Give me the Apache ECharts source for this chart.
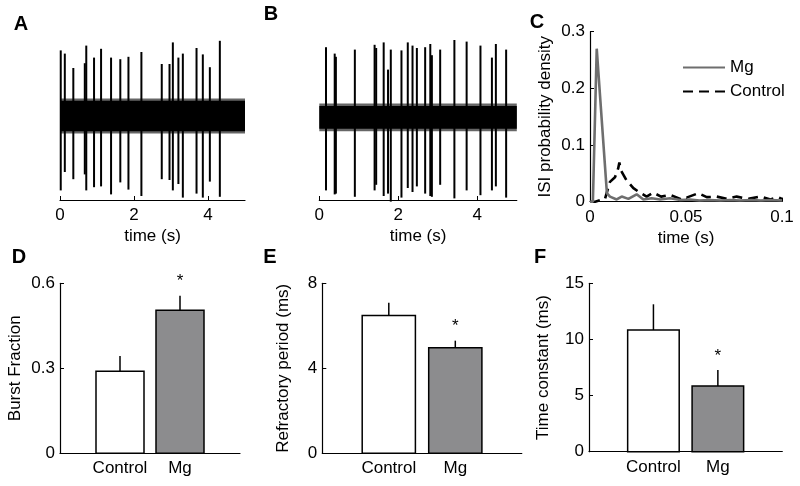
<!DOCTYPE html>
<html><head><meta charset="utf-8">
<script src="https://cdn.jsdelivr.net/npm/echarts@6/dist/echarts.min.js"></script>
<style>html,body{margin:0;padding:0;background:#fff}#c{width:800px;height:486px}</style>
</head><body><div id="c"></div>
<script>
// ---------- Panel A: control recording (spike times in s, peak amplitudes in a.u.) ----------
const spikeTimesA = [0.02,0.13,0.36,0.67,0.71,0.92,1.11,1.38,1.63,1.85,2.20,2.75,2.96,3.05,3.20,3.32,3.69,3.86,4.05,4.32];
const spikeUpA    = [0.87,0.83,0.65,0.71,0.93,0.78,0.89,0.78,0.76,0.79,0.85,0.70,0.70,0.97,0.78,0.83,0.90,0.82,0.66,0.99];
const spikeDownA  = [-0.88,-0.65,-0.74,-0.68,-0.88,-0.84,-0.83,-0.93,-0.78,-0.87,-0.95,-0.74,-0.75,-0.88,-0.80,-0.97,-0.92,-0.97,-0.77,-0.96];
const noiseCoreA  = [-0.14, 0.24];
const noiseOuterA = [-0.17, 0.27];

// ---------- Panel B: Mg recording ----------
const spikeTimesB = [0.17,0.39,0.42,0.90,1.40,1.44,1.63,1.74,1.81,2.08,2.24,2.36,2.47,2.68,2.81,2.85,3.06,3.42,3.73,4.08,4.37,4.47,4.73];
const spikeUpB    = [0.91,0.83,0.79,0.88,0.94,0.90,0.97,0.63,0.88,0.87,0.97,0.93,0.90,0.91,0.95,0.81,0.88,1.00,0.98,0.93,0.78,0.95,0.88];
const spikeDownB  = [-0.88,-0.93,-0.92,-0.96,-0.88,-0.81,-0.95,-0.92,-1.02,-0.97,-0.85,-0.90,-0.83,-0.92,-0.95,-0.96,-0.81,-0.98,-0.88,-0.94,-0.88,-0.83,-0.97];
const noiseCoreB  = [-0.11, 0.175];
const noiseOuterB = [-0.14, 0.205];
const traceTicks  = [0, 2, 4];

// ---------- Panel C: ISI probability density ----------
const isiMgX  = [0,0.0015,0.0035,0.0088,0.0104,0.0139,0.0165,0.02,0.0243,0.0278,0.0321,0.0365,0.0417,0.047,0.052,0.057,0.062,0.068,0.073,0.078,0.084,0.089,0.094,0.1];
const isiMgY  = [0,0,0.27,0.015,0.009,0.004,0.009,0.005,0.013,0.004,0.006,0.004,0.006,0.003,0.004,0.002,0.003,0.002,0.003,0.002,0.003,0.002,0.003,0.002];
const isiCtlX = [0,0.0027,0.0078,0.0104,0.013,0.0147,0.0153,0.016,0.019,0.0226,0.026,0.0295,0.033,0.037,0.0417,0.0477,0.0564,0.0608,0.066,0.0712,0.0764,0.0825,0.0885,0.094,0.098,0.1];
const isiCtlY = [0,0,0.005,0.035,0.043,0.059,0.069,0.056,0.038,0.024,0.016,0.009,0.016,0.009,0.012,0.004,0.015,0.008,0.009,0.005,0.009,0.005,0.009,0.004,0.008,0.005];
const isiSeriesNames = ['Mg','Control'];

// ---------- Panels D-F: bar summaries ----------
const groups = ['Control','Mg'];
const burstMean = [0.29, 0.505];
const burstSem  = [0.053, 0.051];
const refrMean  = [6.48, 4.97];
const refrSem   = [0.61, 0.33];
const tauMean   = [10.84, 5.85];
const tauSem    = [2.29, 1.43];
const significant = [false, true];

// ---------- styling ----------
const FONT = '"Liberation Sans", Arial, Helvetica, sans-serif';
const BLACK = '#000';
const barFill = ['#ffffff', '#8c8c8e'];
const mgColor = '#6e6e6e';

const chart = echarts.init(document.getElementById('c'), null, {renderer: 'canvas'});

const axLine = {show: true, onZero: false, lineStyle: {color: BLACK, width: 1.2}};
const axTick = {show: true, inside: true, length: 4, lineStyle: {color: BLACK, width: 1}};
const axLabel = {color: BLACK, fontSize: 17, fontFamily: FONT};
const nameStyle = {color: BLACK, fontSize: 17, fontFamily: FONT};

const grids = [
  {left: 60,    top: 40,    width: 185,   height: 160},   // A
  {left: 319.3, top: 40,    width: 197.5, height: 160},   // B
  {left: 590,   top: 31.7,  width: 192,   height: 170},   // C
  {left: 60,    top: 283.3, width: 180,   height: 170},   // D
  {left: 322.3, top: 283.3, width: 199.5, height: 170},   // E
  {left: 589,   top: 283.3, width: 193.3, height: 168.4}  // F
];

function traceX(gi) {
  return {type: 'value', gridIndex: gi, min: 0, max: 5, interval: 1,
    axisLine: axLine, splitLine: {show: false},
    axisTick: Object.assign({customValues: traceTicks}, axTick),
    axisLabel: Object.assign({margin: 7, customValues: traceTicks}, axLabel),
    name: 'time (s)', nameLocation: 'middle', nameGap: 28, nameTextStyle: nameStyle};
}
function traceY(gi) {
  return {type: 'value', gridIndex: gi, min: -1, max: 1, show: false};
}
function barX(gi) {
  return {type: 'value', gridIndex: gi, min: 0, max: 3, interval: 1,
    axisLine: axLine, splitLine: {show: false},
    axisTick: Object.assign({customValues: [1, 2]}, axTick),
    axisLabel: Object.assign({margin: 7, customValues: [1, 2],
      formatter: v => groups[Math.round(v) - 1] || ''}, axLabel)};
}
function barY(gi, max, interval, name, gap) {
  return {type: 'value', gridIndex: gi, min: 0, max: max, interval: interval,
    axisLine: axLine, axisTick: axTick, splitLine: {show: false},
    axisLabel: Object.assign({margin: 5}, axLabel),
    name: name, nameLocation: 'middle', nameGap: gap, nameTextStyle: nameStyle};
}

function bandSeries(gi, band, opacity) {
  return {type: 'custom', xAxisIndex: gi, yAxisIndex: gi, silent: true,
    data: [[0, 5, band[0], band[1]]],
    encode: {x: [0, 1], y: [2, 3]},
    renderItem: function (params, api) {
      const p1 = api.coord([api.value(0), api.value(3)]);
      const p2 = api.coord([api.value(1), api.value(2)]);
      return {type: 'rect', shape: {x: p1[0], y: p1[1], width: p2[0] - p1[0], height: p2[1] - p1[1]},
        style: {fill: BLACK, opacity: opacity}};
    }};
}
function spikeSeries(gi, times, up, down) {
  return {type: 'custom', xAxisIndex: gi, yAxisIndex: gi, silent: true, clip: false,
    data: times.map((t, i) => [t, down[i], up[i]]),
    encode: {x: 0, y: [1, 2]},
    renderItem: function (params, api) {
      const a = api.coord([api.value(0), api.value(1)]);
      const b = api.coord([api.value(0), api.value(2)]);
      return {type: 'line', shape: {x1: a[0], y1: a[1], x2: b[0], y2: b[1]},
        style: {stroke: BLACK, lineWidth: 2}};
    }};
}
function barSeries(gi, mean, sem) {
  return {type: 'custom', xAxisIndex: gi, yAxisIndex: gi, silent: true, clip: false,
    data: mean.map((m, i) => [i + 1, m, sem[i], significant[i] ? 1 : 0]),
    encode: {x: 0, y: 1},
    renderItem: function (params, api) {
      const x = api.value(0), v = api.value(1), e = api.value(2), s = api.value(3);
      const p0 = api.coord([x - 0.4, 0]);
      const p1 = api.coord([x + 0.4, v]);
      const top = api.coord([x, v]);
      const et = api.coord([x, v + e]);
      const children = [
        {type: 'line', shape: {x1: top[0], y1: top[1], x2: et[0], y2: et[1]},
          style: {stroke: BLACK, lineWidth: 1.5}},
        {type: 'rect', shape: {x: p0[0], y: p1[1], width: p1[0] - p0[0], height: p0[1] - p1[1]},
          style: {fill: barFill[params.dataIndex], stroke: BLACK, lineWidth: 1.5}}
      ];
      if (s) {
        children.push({type: 'text', x: et[0], y: et[1] - 14,
          style: {text: '*', fontSize: 17, fontFamily: FONT, fill: BLACK, align: 'center', verticalAlign: 'middle'}});
      }
      return {type: 'group', children: children};
    }};
}

const letters = [['A', 21, 24], ['B', 271, 14], ['C', 537, 22], ['D', 19, 257], ['E', 270, 257], ['F', 540, 257]];

const option = {
  animation: false,
  backgroundColor: '#fff',
  textStyle: {fontFamily: FONT},
  grid: grids,
  legend: {
    data: isiSeriesNames, orient: 'vertical', left: 677, top: 54,
    itemWidth: 42, itemHeight: 14, itemGap: 7,
    itemStyle: {opacity: 0},
    textStyle: {color: BLACK, fontSize: 17, fontFamily: FONT},
    selectedMode: false
  },
  xAxis: [
    traceX(0), traceX(1),
    {type: 'value', gridIndex: 2, min: 0, max: 0.1, interval: 0.05,
      axisLine: axLine, axisTick: axTick, splitLine: {show: false},
      axisLabel: Object.assign({margin: 7}, axLabel),
      name: 'time (s)', nameLocation: 'middle', nameGap: 28, nameTextStyle: nameStyle},
    barX(3), barX(4), barX(5)
  ],
  yAxis: [
    traceY(0), traceY(1),
    {type: 'value', gridIndex: 2, min: 0, max: 0.3, interval: 0.1,
      axisLine: axLine, axisTick: axTick, splitLine: {show: false},
      axisLabel: Object.assign({margin: 5}, axLabel),
      name: 'ISI probability density', nameLocation: 'middle', nameGap: 36, nameTextStyle: nameStyle},
    barY(3, 0.6, 0.3, 'Burst Fraction', 36),
    barY(4, 8, 4, 'Refractory period (ms)', 30),
    barY(5, 15, 5, 'Time constant (ms)', 37)
  ],
  series: [
    bandSeries(0, noiseOuterA, 0.6), bandSeries(0, noiseCoreA, 1),
    spikeSeries(0, spikeTimesA, spikeUpA, spikeDownA),
    bandSeries(1, noiseOuterB, 0.6), bandSeries(1, noiseCoreB, 1),
    spikeSeries(1, spikeTimesB, spikeUpB, spikeDownB),
    {name: 'Control', type: 'line', xAxisIndex: 2, yAxisIndex: 2, symbol: 'none',
      data: isiCtlX.map((x, i) => [x, isiCtlY[i]]),
      lineStyle: {color: BLACK, width: 2.6, type: [10, 6]}, itemStyle: {color: BLACK}, z: 2},
    {name: 'Mg', type: 'line', xAxisIndex: 2, yAxisIndex: 2, symbol: 'none',
      data: isiMgX.map((x, i) => [x, isiMgY[i]]),
      lineStyle: {color: mgColor, width: 2.6}, itemStyle: {color: mgColor}, z: 3},
    barSeries(3, burstMean, burstSem),
    barSeries(4, refrMean, refrSem),
    barSeries(5, tauMean, tauSem)
  ],
  graphic: letters.map(l => ({type: 'text', x: l[1], y: l[2],
    style: {text: l[0], fontSize: 20, fontWeight: 'bold', fontFamily: FONT, fill: BLACK,
      align: 'center', verticalAlign: 'middle'}}))
};
chart.setOption(option);
</script>
</body></html>
